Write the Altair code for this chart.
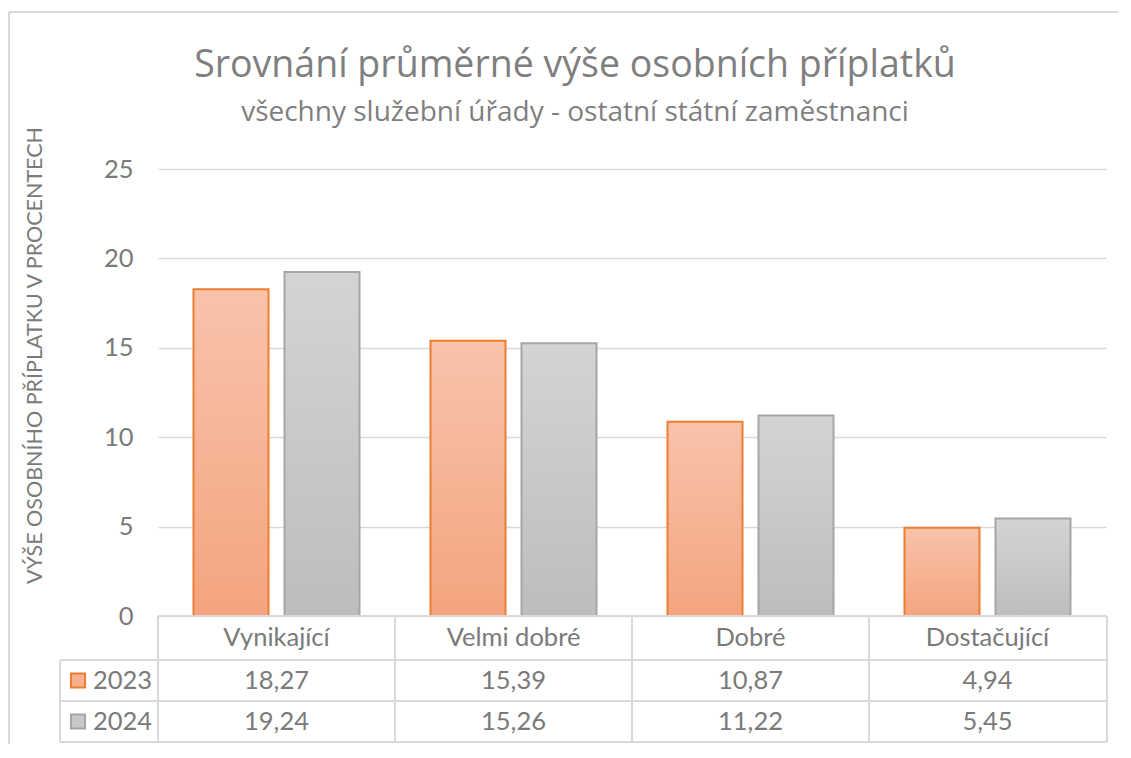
import altair as alt
import pandas as pd

categories = ["Vynikající", "Velmi dobré", "Dobré", "Dostačující"]
years = ["2023", "2024"]
values_2023 = [18.27, 15.39, 10.87, 4.94]
values_2024 = [19.24, 15.26, 11.22, 5.45]
y_ticks = [0, 5, 10, 15, 20, 25]

title_text = "Srovnání průměrné výše osobních příplatků"
subtitle_text = "všechny služební úřady - ostatní státní zaměstnanci"
y_title = "VÝŠE OSOBNÍHO PŘÍPLATKU V PROCENTECH"

rows = []
for yr, vals in zip(years, [values_2023, values_2024]):
    for c, v in zip(categories, vals):
        rows.append({"cat": c, "year": yr, "value": v,
                     "label": f"{v:.2f}".replace(".", ",")})
df = pd.DataFrame(rows)
cat_df = pd.DataFrame({"cat": categories})
year_df = pd.DataFrame({"year": years})
one = pd.DataFrame({"k": [0]})

FONT = "Lato"
TFONT = "Open Sans"
TXT = "#7a7a7a"
LINE = "#d9d9d9"
W, H = 948, 447
FS = 25.5

R0, R1, R2, R3 = H, 491, 532, 573
ROWC = [(R0 + R1) / 2, (R1 + R2) / 2, (R2 + R3) / 2]
LEFT = -98

x_enc = alt.X("cat:N", sort=categories, axis=None,
              scale=alt.Scale(paddingInner=0, paddingOuter=0))
y_enc = alt.Y("value:Q", scale=alt.Scale(domain=[0, 25], nice=False),
              axis=alt.Axis(values=y_ticks, title=y_title, ticks=False, domain=False,
                            grid=True, gridColor=LINE, gridWidth=1.6,
                            labelFont=FONT, labelFontSize=FS, labelColor=TXT, labelPadding=25,
                            titleFont=FONT, titleFontSize=21.5, titleColor=TXT, titleFontWeight="normal",
                            titleX=-123, titleY=186, titleAngle=270, titleBaseline="middle",
                            titleAlign="center"))

grad_o = alt.Gradient(gradient="linear", x1=0, y1=0, x2=0, y2=1,
                      stops=[alt.GradientStop(color="#f8c3ab", offset=0),
                             alt.GradientStop(color="#f4a47f", offset=1)])
grad_g = alt.Gradient(gradient="linear", x1=0, y1=0, x2=0, y2=1,
                      stops=[alt.GradientStop(color="#d4d4d4", offset=0),
                             alt.GradientStop(color="#bdbdbd", offset=1)])

bars_o = alt.Chart(df).transform_filter(alt.datum.year == "2023").mark_bar(
    fill=grad_o, stroke="#ed7d31", strokeWidth=2, opacity=1, width=75, xOffset=-45.5
).encode(x=x_enc, y=y_enc)
bars_g = alt.Chart(df).transform_filter(alt.datum.year == "2024").mark_bar(
    fill=grad_g, stroke="#a5a5a5", strokeWidth=2, opacity=1, width=75, xOffset=45.5
).encode(x=x_enc, y=alt.Y("value:Q"))


def rule(x0, x1, y0, y1, color=LINE, w=2):
    return alt.Chart(one).mark_rule(color=color, strokeWidth=w).encode(
        x=alt.value(x0), x2=alt.value(x1), y=alt.value(y0), y2=alt.value(y1))


lines = [
    rule(0, W + 1, R0, R0),
    rule(LEFT, W + 1, R1, R1),
    rule(LEFT, W + 1, R2, R2),
    rule(LEFT, W + 1, R3, R3),
    rule(LEFT, LEFT, R1, R3),
    rule(0, 0, R0, R3),
    rule(W + 1, W + 1, R0, R3),
    rule(-149, 1200, -157, -157),
    rule(-149, -149, -157, 700),
]
vlines = alt.Chart(cat_df).transform_filter(alt.datum.cat != categories[0]).mark_rule(
    color=LINE, strokeWidth=2, xOffset=-118.5).encode(
    x=alt.X("cat:N", sort=categories),
    y=alt.value(R0), y2=alt.value(R3))

header = alt.Chart(cat_df).mark_text(font=FONT, fontSize=FS, color=TXT, baseline="middle").encode(
    x=alt.X("cat:N", sort=categories), y=alt.value(ROWC[0]), text="cat:N")
vals_o = alt.Chart(df).transform_filter(alt.datum.year == "2023").mark_text(
    font=FONT, fontSize=FS, color=TXT, baseline="middle").encode(
    x=alt.X("cat:N", sort=categories), y=alt.value(ROWC[1]), text="label:N")
vals_g = alt.Chart(df).transform_filter(alt.datum.year == "2024").mark_text(
    font=FONT, fontSize=FS, color=TXT, baseline="middle").encode(
    x=alt.X("cat:N", sort=categories), y=alt.value(ROWC[2]), text="label:N")

key_o = alt.Chart(year_df).transform_filter(alt.datum.year == "2023").mark_square(
    size=200, fill="#f6b090", stroke="#ed7d31", strokeWidth=2, opacity=1).encode(
    x=alt.value(-80), y=alt.value(ROWC[1]))
key_g = alt.Chart(year_df).transform_filter(alt.datum.year == "2024").mark_square(
    size=200, fill="#c8c8c8", stroke="#a5a5a5", strokeWidth=2, opacity=1).encode(
    x=alt.value(-80), y=alt.value(ROWC[2]))
year_o = alt.Chart(year_df).transform_filter(alt.datum.year == "2023").mark_text(
    font=FONT, fontSize=FS, color=TXT, baseline="middle", align="left").encode(
    x=alt.value(-65), y=alt.value(ROWC[1]), text="year:N")
year_g = alt.Chart(year_df).transform_filter(alt.datum.year == "2024").mark_text(
    font=FONT, fontSize=FS, color=TXT, baseline="middle", align="left").encode(
    x=alt.value(-65), y=alt.value(ROWC[2]), text="year:N")

title = alt.Chart(pd.DataFrame({"t": [title_text]})).mark_text(
    font=TFONT, fontSize=37.5, color="#7f7f7f", align="center", baseline="alphabetic").encode(
    x=alt.value(417), y=alt.value(-92), text="t:N")
subtitle = alt.Chart(pd.DataFrame({"t": [subtitle_text]})).mark_text(
    font=TFONT, fontSize=28, color="#7f7f7f", align="center", baseline="alphabetic").encode(
    x=alt.value(417), y=alt.value(-48), text="t:N")

chart = alt.layer(
    bars_o, bars_g, *lines, vlines, header, vals_o, vals_g,
    key_o, key_g, year_o, year_g, title, subtitle
).properties(
    width=W, height=H,
    autosize=alt.AutoSizeParams(type="none"),
    padding={"left": 150, "top": 161, "right": 12, "bottom": 128},
    background="white"
).configure_view(stroke=None)

chart.save("out.html", embed_options={"renderer": "svg", "actions": False})
